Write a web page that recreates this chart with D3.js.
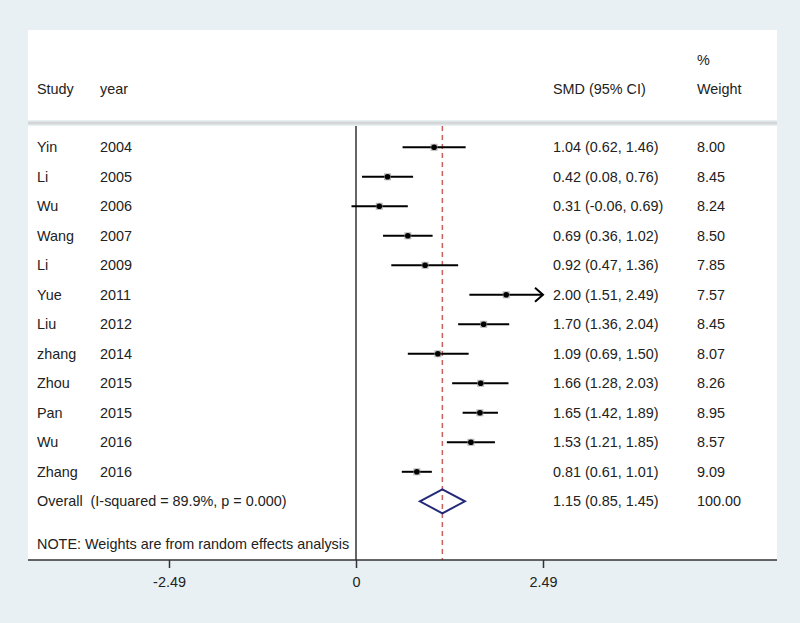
<!DOCTYPE html>
<html>
<head>
<meta charset="utf-8">
<script src="https://cdn.jsdelivr.net/npm/d3@7"></script>
<style>
  body { margin: 0; background: #e9f0f4; }
  svg { display: block; font-family: "Liberation Sans", Arial, sans-serif; }
</style>
</head>
<body>
<div id="chart"></div>
<script>
const studies = ["Yin", "Li", "Wu", "Wang", "Li", "Yue", "Liu", "zhang", "Zhou", "Pan", "Wu", "Zhang"];
const years = ["2004", "2005", "2006", "2007", "2009", "2011", "2012", "2014", "2015", "2015", "2016", "2016"];
const smd = [1.04, 0.42, 0.31, 0.69, 0.92, 2.00, 1.70, 1.09, 1.66, 1.65, 1.53, 0.81];
const lower = [0.62, 0.08, -0.06, 0.36, 0.47, 1.51, 1.36, 0.69, 1.28, 1.42, 1.21, 0.61];
const upper = [1.46, 0.76, 0.69, 1.02, 1.36, 2.49, 2.04, 1.50, 2.03, 1.89, 1.85, 1.01];
const weights = ["8.00", "8.45", "8.24", "8.50", "7.85", "7.57", "8.45", "8.07", "8.26", "8.95", "8.57", "9.09"];
const overall = { est: 1.15, lo: 0.85, hi: 1.45, weight: "100.00" };
const overallLabel = "Overall  (I-squared = 89.9%, p = 0.000)";
const tickValues = [-2.49, 0, 2.49];
const axisLimit = 2.49;

const W = 800, H = 623;
const panel = { left: 28, right: 777, headTop: 30, headBottom: 120, top: 126, bottom: 560 };

const svg = d3.select("#chart")
  .append("svg")
  .attr("width", W)
  .attr("height", H);

const x = d3.scaleLinear().domain([-2.49, 2.49]).range([169, 543]);
const y = d3.scalePoint().domain(d3.range(studies.length + 1)).range([147.3, 501.3]);

const col = { study: 37, year: 100, ci: 553, weight: 697 };
const textColor = "#222";
const fs = "14.4px";

// panels
svg.append("rect")
  .attr("x", panel.left).attr("y", panel.headTop)
  .attr("width", panel.right - panel.left).attr("height", panel.headBottom - panel.headTop)
  .attr("fill", "#fff");
svg.append("line")
  .attr("x1", panel.left).attr("x2", panel.right)
  .attr("y1", 123).attr("y2", 123)
  .attr("stroke", "#d4d6d8").attr("stroke-width", 3);
svg.append("rect")
  .attr("x", panel.left).attr("y", panel.top)
  .attr("width", panel.right - panel.left).attr("height", panel.bottom - panel.top)
  .attr("fill", "#fff");

// header
const header = svg.append("g")
  .style("font-size", fs)
  .attr("fill", textColor);
header.append("text").attr("x", col.study).attr("y", 89).attr("dy", "0.35em").text("Study");
header.append("text").attr("x", col.year).attr("y", 89).attr("dy", "0.35em").text("year");
header.append("text").attr("x", col.ci).attr("y", 89).attr("dy", "0.35em").text("SMD (95% CI)");
header.append("text").attr("x", col.weight).attr("y", 60).attr("dy", "0.35em").text("%");
header.append("text").attr("x", col.weight).attr("y", 89).attr("dy", "0.35em").text("Weight");

// zero line
svg.append("line")
  .attr("x1", x(0)).attr("x2", x(0))
  .attr("y1", panel.top).attr("y2", panel.bottom)
  .attr("stroke", "#333").attr("stroke-width", 1.5);

// overall effect dashed line
svg.append("line")
  .attr("x1", x(overall.est)).attr("x2", x(overall.est))
  .attr("y1", panel.top).attr("y2", panel.bottom)
  .attr("stroke", "#c9605c").attr("stroke-width", 1.5)
  .attr("stroke-dasharray", "5,4");

// study rows
const rows = svg.append("g").selectAll("g")
  .data(studies)
  .enter()
  .append("g")
  .attr("transform", (d, i) => `translate(0, ${y(i)})`);

rows.append("line")
  .attr("x1", (d, i) => x(lower[i]))
  .attr("x2", (d, i) => x(Math.min(upper[i], axisLimit)))
  .attr("stroke", "#000").attr("stroke-width", 2);

rows.filter((d, i) => upper[i] >= axisLimit)
  .append("path")
  .attr("d", `M${x(axisLimit) - 8},-7L${x(axisLimit)},0L${x(axisLimit) - 8},7`)
  .attr("fill", "none").attr("stroke", "#000").attr("stroke-width", 2);

rows.append("rect")
  .attr("x", (d, i) => x(smd[i]) - 3.5).attr("y", -3.5)
  .attr("width", 7).attr("height", 7)
  .attr("fill", "#9a9a9a").attr("opacity", 0.7);

rows.append("circle")
  .attr("cx", (d, i) => x(smd[i]))
  .attr("r", 2.8)
  .attr("fill", "#000");

rows.append("text").attr("x", col.study).attr("dy", "0.35em")
  .style("font-size", fs).attr("fill", textColor).text(d => d);
rows.append("text").attr("x", col.year).attr("dy", "0.35em")
  .style("font-size", fs).attr("fill", textColor).text((d, i) => years[i]);
rows.append("text").attr("x", col.ci).attr("dy", "0.35em")
  .style("font-size", fs).attr("fill", textColor)
  .text((d, i) => `${smd[i].toFixed(2)} (${lower[i].toFixed(2)}, ${upper[i].toFixed(2)})`);
rows.append("text").attr("x", col.weight).attr("dy", "0.35em")
  .style("font-size", fs).attr("fill", textColor).text((d, i) => weights[i]);

// overall row
const oy = y(studies.length);
svg.append("path")
  .attr("d", `M${x(overall.lo)},${oy}L${x(overall.est)},${oy - 12}L${x(overall.hi)},${oy}L${x(overall.est)},${oy + 12}Z`)
  .attr("fill", "none").attr("stroke", "#232a78").attr("stroke-width", 2);

const ot = svg.append("g").style("font-size", fs).attr("fill", textColor);
ot.append("text").attr("x", col.study).attr("y", oy).attr("dy", "0.35em")
  .style("white-space", "pre").text(overallLabel);
ot.append("text").attr("x", col.ci).attr("y", oy).attr("dy", "0.35em")
  .text(`${overall.est.toFixed(2)} (${overall.lo.toFixed(2)}, ${overall.hi.toFixed(2)})`);
ot.append("text").attr("x", col.weight).attr("y", oy).attr("dy", "0.35em")
  .text(overall.weight);
ot.append("text").attr("x", col.study).attr("y", 544).attr("dy", "0.35em")
  .text("NOTE: Weights are from random effects analysis");

// x axis
svg.append("line")
  .attr("x1", panel.left).attr("x2", panel.right)
  .attr("y1", panel.bottom).attr("y2", panel.bottom)
  .attr("stroke", "#333").attr("stroke-width", 1.5);

const axis = svg.append("g")
  .attr("transform", `translate(0, ${panel.bottom})`)
  .call(d3.axisBottom(x).tickValues(tickValues).tickSize(8).tickPadding(9).tickFormat(d => d === 0 ? "0" : d.toFixed(2)));
axis.select(".domain").remove();
axis.selectAll(".tick line").attr("stroke", "#333").attr("stroke-width", 1.5);
axis.selectAll("text")
  .style("font-size", fs)
  .style("font-family", "'Liberation Sans', Arial, sans-serif")
  .attr("fill", textColor);
</script>
</body>
</html>
